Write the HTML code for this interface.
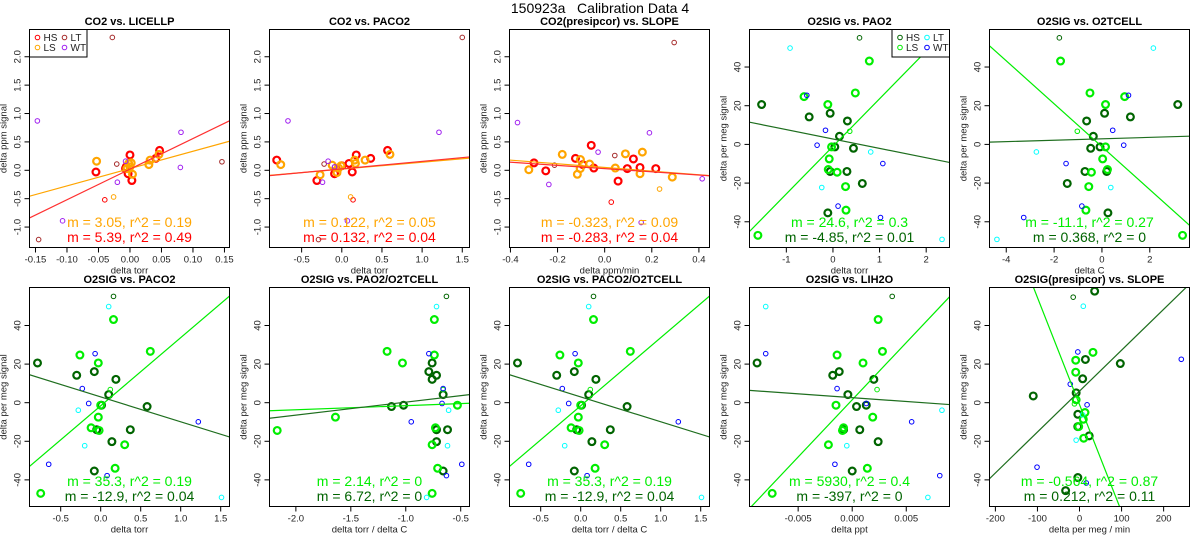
<!DOCTYPE html>
<html><head><meta charset="utf-8"><style>
html,body{margin:0;padding:0;background:#fff;width:1200px;height:550px;overflow:hidden;}
svg{display:block;font-family:"Liberation Sans",sans-serif;}
</style></head><body>
<svg id="chart" width="1200" height="550" viewBox="0 0 1200 550">
<text x="600" y="13" text-anchor="middle" font-size="14" style="white-space:pre">150923a   Calibration Data 4</text>
</svg>
<script>
// ---- data (pairs of [x, y]) ----
const p1_hs=[[-0.054,-0.03],[0.0,0.27],[-0.006,0.06],[-0.003,-0.06],[0.003,-0.18],[0.041,0.21],[0.047,0.35],[-0.007,0.03]];
const p1_ls=[[-0.053,0.16],[0.03,0.1],[0.032,0.18],[0.046,0.28],[0.004,-0.07],[-0.002,0.12],[0.002,0.13],[-0.005,0.03],[0.0,0.06]];
const p1_hso=[[-0.04,-0.52]];
const p1_lso=[[-0.026,-0.47]];
const p1_lt=[[-0.028,2.34],[-0.021,0.11],[-0.145,-1.22],[0.146,0.15]];
const p1_wt=[[-0.147,0.87],[0.081,0.67],[0.08,0.05],[-0.02,-0.21],[-0.107,-0.89],[-0.007,0.16]];

const p2_hs=[[-0.81,0.18],[-0.31,-0.18],[-0.09,-0.06],[0.0,0.08],[0.09,0.12],[0.13,-0.03],[0.18,0.27],[0.36,0.21],[0.57,0.35]];
const p2_ls=[[-0.76,0.1],[-0.27,-0.08],[-0.12,0.09],[-0.04,0.04],[-0.01,0.08],[0.16,0.18],[0.17,0.12],[0.29,0.18],[0.6,0.28],[-0.06,-0.04]];
const p2_hso=[[0.14,-0.52]];
const p2_lso=[[0.11,-0.47]];
const p2_lt=[[1.5,2.34],[-0.22,0.11],[-0.29,-1.22],[-0.09,0.06]];
const p2_wt=[[-0.67,0.87],[1.21,0.67],[-0.17,0.16],[-0.24,-0.21],[0.07,-0.89],[-0.09,0.06]];

const p3_hs=[[-0.30,0.13],[-0.25,-0.01],[-0.124,0.21],[-0.093,0.1],[-0.057,0.44],[-0.046,0.04],[0.057,-0.19],[0.096,0.03],[0.122,0.2],[0.15,0.05],[0.217,0.03]];
const p3_ls=[[-0.322,0.01],[-0.18,0.28],[-0.116,-0.07],[-0.104,0.03],[-0.103,0.19],[-0.064,0.11],[0.045,0.04],[0.088,0.29],[0.16,0.32],[0.15,-0.06],[0.287,-0.12]];
const p3_hso=[[0.028,-0.56]];
const p3_lso=[[0.233,-0.33]];
const p3_lt=[[0.295,2.25],[-0.213,0.09],[0.043,0.26]];
const p3_wt=[[-0.37,0.84],[0.19,0.66],[-0.028,0.32],[-0.237,-0.25],[0.414,-0.15],[0.155,-0.92]];

const p4_hs=[[-1.53,20.6],[-0.51,14.2],[-0.06,16.1],[0.31,12.1],[0.14,4.2],[0.04,-1.3],[0.44,-2],[-0.06,-14],[0.3,-14],[0.63,-20.2],[-0.11,-35.4]];
const p4_ls=[[-0.62,24.7],[-0.11,20.6],[0.48,26.6],[0.78,43.1],[-0.03,-1.3],[-0.08,-7.5],[-0.1,-13],[0.09,-14.4],[0.27,-21.8],[0.28,-34],[-1.61,-47]];
const p4_hso=[[0.57,55.1]];
const p4_lso=[[0.36,6.8]];
const p4_lt=[[-0.92,49.8],[-0.24,-22.3],[0.81,-3.9],[2.34,-49.1]];
const p4_wt=[[-0.56,25.4],[-0.16,7.3],[-0.34,-0.4],[1.07,-9.9],[0.11,-31.9],[1.02,-37.8]];

const p5_hs=[[3.17,20.6],[1.19,14.2],[0.11,16.1],[-0.64,12.1],[-0.36,4.2],[-0.08,-1.3],[-0.47,-2],[-0.71,-14],[0.2,-14],[-1.45,-20.2],[0.25,-35.4]];
const p5_ls=[[0.95,24.7],[0.15,20.6],[-0.5,26.6],[-1.73,43.1],[0.15,-1.3],[0.03,-7.5],[0.23,-13],[-0.44,-14.4],[-0.55,-21.8],[-0.67,-34],[3.37,-47]];
const p5_hso=[[-1.78,55.1]];
const p5_lso=[[-1.03,6.8]];
const p5_lt=[[2.15,49.8],[0.37,-22.3],[-2.74,-3.9],[-4.39,-49.1]];
const p5_wt=[[1.11,25.4],[0.45,7.3],[0.91,-0.4],[-1.5,-9.9],[-0.84,-31.9],[-3.27,-37.8]];

const p6_hs=[[-0.79,20.6],[-0.3,14.2],[-0.08,16.1],[0.19,12.1],[0.1,4.2],[0.01,-1.3],[0.58,-2],[-0.05,-14],[0.37,-14],[0.14,-20.2],[-0.08,-35.4]];
const p6_ls=[[-0.26,24.7],[-0.03,20.6],[0.62,26.6],[0.16,43.1],[0.0,-1.3],[-0.03,-7.5],[-0.12,-13],[-0.02,-14.4],[0.3,-21.8],[0.18,-34],[-0.75,-47]];
const p6_hso=[[0.16,55.1]];
const p6_lso=[[0.12,6.8]];
const p6_lt=[[0.1,49.8],[-0.2,-22.3],[-0.28,-3.9],[1.51,-49.1]];
const p6_wt=[[-0.07,25.4],[-0.23,7.3],[-0.15,-0.4],[1.22,-9.9],[-0.65,-31.9],[0.08,-37.8]];

const p7_hs=[[-0.76,20.6],[-0.72,14.2],[-0.79,16.1],[-0.76,12.1],[-0.66,4.2],[-1.02,-1.3],[-1.13,-2],[-0.72,-14],[-0.62,-14],[-0.72,-20.2],[-0.66,-35.4]];
const p7_ls=[[-0.74,24.7],[-1.03,20.6],[-1.17,26.6],[-0.74,43.1],[-0.53,-1.3],[-1.64,-7.5],[-0.73,-13],[-2.17,-14.4],[-0.76,-21.8],[-0.71,-34],[-0.76,-47]];
const p7_hso=[[-0.63,55.1]];
const p7_lso=[[-0.66,6.8]];
const p7_lt=[[-0.72,49.8],[-0.62,-22.3],[-0.61,-3.9],[-0.81,-49.1]];
const p7_wt=[[-0.79,25.4],[-0.66,7.3],[-0.67,-0.4],[-0.95,-9.9],[-0.49,-31.9],[-0.63,-37.8]];

const p9_hs=[[-0.0088,20.6],[-0.0018,14.2],[-0.0012,16.1],[0.002,12.1],[-0.0004,4.2],[0.0013,-1.3],[0.0004,-2],[0.0007,-14],[0.0024,-20.2],[0.0,-35.4],[-0.0008,-14]];
const p9_ls=[[-0.0014,24.7],[0.001,20.6],[0.0028,26.6],[0.0024,43.1],[-0.0015,-1.3],[0.0019,-7.5],[-0.0008,-13],[-0.0009,-14.4],[-0.0022,-21.8],[0.0014,-34],[-0.0074,-47]];
const p9_hso=[[0.0037,55.1]];
const p9_lso=[[0.0023,6.8]];
const p9_lt=[[-0.008,49.8],[-0.0005,-22.3],[0.0083,-3.9],[0.007,-49.1]];
const p9_wt=[[-0.008,25.4],[-0.0014,7.3],[0.0013,-0.4],[0.0055,-9.9],[-0.0016,-31.9],[0.0081,-37.8]];

const p10_hs=[[36,57.8],[14,22.4],[97,20.3],[7.5,12.4],[-110,3.5],[-8,5.1],[-4,-6],[-4,-12.4],[23,-17.2],[-4,-38.8],[-33,-45.6]];
const p10_ls=[[32,26.1],[-9,22],[-9,15.8],[-8,1.5],[13,-5.1],[9,-8.6],[-2,-12.4],[10,-18.4]];
const p10_hso=[[-15,54.7]];
const p10_lso=[[-12,-0.6]];
const p10_lt=[[9,50],[-8,-19.4],[7.5,-6.3]];
const p10_wt=[[-4,26.3],[-22,9.6],[18,-1.1],[-101,-33.4],[242,22.5],[16,-41.6]];

// fit lines: [slope, intercept]
const p1_fits=[[3.05,0.03],[5.39,0.02]];
const p2_fits=[[0.122,0.02],[0.132,0.025]];
const p3_fits=[[-0.323,0.05],[-0.283,0.03]];
const p4_fits=[[24.6,-1],[-4.85,2.8]];
const p5_fits=[[-11.1,-1.2],[0.368,2.9]];
const p6_fits=[[35.3,-1.6],[-12.9,3]];
const p7_fits=[[2.14,0.6],[6.72,7]];
const p9_fits=[[5930,1.5],[-397,2.6]];
const p10_fits=[[-0.555,-1],[0.212,6]];

// tick labels
const co2_yticks=["-1.0","-0.5","0.0","0.5","1.0","1.5","2.0"];
const o2_yticks=["-40","-20","0","20","40"];
const p1_xticks=["-0.15","-0.10","-0.05","0.00","0.05","0.10","0.15"];
const p2_xticks=["-0.5","0.0","0.5","1.0","1.5"];
const p3_xticks=["-0.4","-0.2","0.0","0.2","0.4"];
const p4_xticks=["-1","0","1","2"];
const p5_xticks=["-4","-2","0","2"];
const p7_xticks=["-2.0","-1.5","-1.0","-0.5"];
const p9_xticks=["-0.005","0.000","0.005"];
const p10_xticks=["-200","-100","0","100","200"];

const NS="http://www.w3.org/2000/svg";
const svg=document.getElementById('chart');
function mk(tag,attrs,parent){const e=document.createElementNS(NS,tag);for(const k in attrs)e.setAttribute(k,attrs[k]);(parent||svg).appendChild(e);return e;}

const CO2={hs:'#FF0000',ls:'#FFA500',lt:'#A52A2A',wt:'#A020F0',l1:'#FFA500',l2:'#FF3030'};
const O2={hs:'#006400',ls:'#00EE00',lt:'#00FFFF',wt:'#0000FF',l1:'#00EE00',l2:'#1E6E1E'};

const panels=[
 {t:'CO2 vs. LICELLP',xl:'delta torr',yl:'delta ppm signal',xr:[-0.1595,0.158],yr:[-1.36,2.48],xt:p1_xticks,yt:co2_yticks,s:[p1_hs,p1_ls,p1_hso,p1_lso,p1_lt,p1_wt],f:p1_fits,c:CO2,leg:'left',txt:['m = 3.05, r^2 = 0.19','m = 5.39, r^2 = 0.49']},
 {t:'CO2 vs. PACO2',xl:'delta torr',yl:'delta ppm signal',xr:[-0.9,1.59],yr:[-1.36,2.48],xt:p2_xticks,yt:co2_yticks,s:[p2_hs,p2_ls,p2_hso,p2_lso,p2_lt,p2_wt],f:p2_fits,c:CO2,txt:['m = 0.122, r^2 = 0.05','m = 0.132, r^2 = 0.04']},
 {t:'CO2(presipcor) vs. SLOPE',xl:'delta ppm/min',yl:'delta ppm signal',xr:[-0.404,0.445],yr:[-1.36,2.48],xt:p3_xticks,yt:co2_yticks,s:[p3_hs,p3_ls,p3_hso,p3_lso,p3_lt,p3_wt],f:p3_fits,c:CO2,txt:['m = -0.323, r^2 = 0.09','m = -0.283, r^2 = 0.04']},
 {t:'O2SIG vs. PAO2',xl:'delta torr',yl:'delta per meg signal',xr:[-1.79,2.5],yr:[-53.3,59.4],xt:p4_xticks,yt:o2_yticks,s:[p4_hs,p4_ls,p4_hso,p4_lso,p4_lt,p4_wt],f:p4_fits,c:O2,leg:'right',txt:['m = 24.6, r^2 = 0.3','m = -4.85, r^2 = 0.01']},
 {t:'O2SIG vs. O2TCELL',xl:'delta C',yl:'delta per meg signal',xr:[-4.7,3.66],yr:[-53.3,59.4],xt:p5_xticks,yt:o2_yticks,s:[p5_hs,p5_ls,p5_hso,p5_lso,p5_lt,p5_wt],f:p5_fits,c:O2,txt:['m = -11.1, r^2 = 0.27','m = 0.368, r^2 = 0']},
 {t:'O2SIG vs. PACO2',xl:'delta torr',yl:'delta per meg signal',xr:[-0.89,1.61],yr:[-53.8,59.7],xt:p2_xticks,yt:o2_yticks,s:[p6_hs,p6_ls,p6_hso,p6_lso,p6_lt,p6_wt],f:p6_fits,c:O2,txt:['m = 35.3, r^2 = 0.19','m = -12.9, r^2 = 0.04']},
 {t:'O2SIG vs. PAO2/O2TCELL',xl:'delta torr / delta C',yl:'delta per meg signal',xr:[-2.24,-0.42],yr:[-53.8,59.7],xt:p7_xticks,yt:o2_yticks,s:[p7_hs,p7_ls,p7_hso,p7_lso,p7_lt,p7_wt],f:p7_fits,c:O2,txt:['m = 2.14, r^2 = 0','m = 6.72, r^2 = 0']},
 {t:'O2SIG vs. PACO2/O2TCELL',xl:'delta torr / delta C',yl:'delta per meg signal',xr:[-0.89,1.61],yr:[-53.8,59.7],xt:p2_xticks,yt:o2_yticks,s:[p6_hs,p6_ls,p6_hso,p6_lso,p6_lt,p6_wt],f:p6_fits,c:O2,txt:['m = 35.3, r^2 = 0.19','m = -12.9, r^2 = 0.04']},
 {t:'O2SIG vs. LIH2O',xl:'delta ppt',yl:'delta per meg signal',xr:[-0.0095,0.009],yr:[-53.8,59.7],xt:p9_xticks,yt:o2_yticks,s:[p9_hs,p9_ls,p9_hso,p9_lso,p9_lt,p9_wt],f:p9_fits,c:O2,txt:['m = 5930, r^2 = 0.4','m = -397, r^2 = 0']},
 {t:'O2SIG(presipcor) vs. SLOPE',xl:'delta per meg / min',yl:'delta per meg signal',xr:[-214,261.5],yr:[-53.8,59.7],xt:p10_xticks,yt:o2_yticks,s:[p10_hs,p10_ls,p10_hso,p10_lso,p10_lt,p10_wt],f:p10_fits,c:O2,txt:['m = -0.564, r^2 = 0.87','m = 0.212, r^2 = 0.11']}
];
const sNames=['hs','ls','hs','ls','lt','wt'];
const sNamesFull=['hs-points','ls-points','hs-excluded-points','ls-excluded-points','lt-points','wt-points'];

panels.forEach((p,i)=>{
  const col=i%5,row=Math.floor(i/5);
  const x0=29.5+240*col,w=200;
  const y0=row?287.5:29.5,y1=row?506.5:247.5,h=y1-y0;
  const g=mk('g',{});
  
  
  const sx=v=>x0+(v-p.xr[0])/(p.xr[1]-p.xr[0])*w;
  const sy=v=>y1-(v-p.yr[0])/(p.yr[1]-p.yr[0])*h;
  const cp=mk('clipPath',{id:'cp'+i},g);mk('rect',{x:x0,y:y0,width:w,height:h},cp);
  const tt=mk('text',{x:x0+w/2,y:row?283:25,'text-anchor':'middle','font-size':11,'font-weight':'bold'},g);tt.textContent=p.t;
  
  
  p.xt.forEach(l=>{const v=parseFloat(l),X=sx(v);
    mk('line',{x1:X,x2:X,y1:y1,y2:y1+5,stroke:'#000','stroke-width':1},g);
    const t=mk('text',{x:X,y:y1+15,'text-anchor':'middle','font-size':9.5,fill:'#222'},g);t.textContent=l;
    
    
  });
  p.yt.forEach(l=>{const v=parseFloat(l),Y=sy(v);
    mk('line',{x1:x0-5,x2:x0,y1:Y,y2:Y,stroke:'#000','stroke-width':1},g);
    const t=mk('text',{x:x0-9,y:Y,'text-anchor':'middle','font-size':9.5,fill:'#222',transform:`rotate(-90 ${x0-9} ${Y})`},g);t.textContent=l;
    
    
  });
  const xl=mk('text',{x:x0+w/2,y:y1+26,'text-anchor':'middle','font-size':9.5,fill:'#222'},g);xl.textContent=p.xl;
  
  
  const yc=(y0+y1)/2;
  const yl=mk('text',{x:x0-23,y:yc,'text-anchor':'middle','font-size':9.5,fill:'#222',transform:`rotate(-90 ${x0-23} ${yc})`},g);yl.textContent=p.yl;
  
  
  const pg=mk('g',{'clip-path':`url(#cp${i})`},g);
  p.s.forEach((arr,k)=>{
    const big=k<2;
    arr.forEach(pt=>{
      const c=mk('circle',{cx:sx(pt[0]),cy:sy(pt[1]),r:big?3.4:2.3,fill:'none',stroke:p.c[sNames[k]],'stroke-width':big?2.2:1},pg);
      
      
    });
  });
  p.f.forEach((f,k)=>{
    const a=p.xr[0],b=p.xr[1];
    const ln=mk('line',{x1:sx(a),y1:sy(f[0]*a+f[1]),x2:sx(b),y2:sy(f[0]*b+f[1]),stroke:k?p.c.l2:p.c.l1,'stroke-width':1.2},pg);
    
    
  });
  p.txt.forEach((s,k)=>{
    const t=mk('text',{x:x0+w/2,y:(row?486:227)+k*15,'text-anchor':'middle','font-size':14,fill:k?(p.c===CO2?'#FF0000':'#006400'):(p.c===CO2?'#FFA500':'#00EE00')},g);
    t.textContent=s;
    
    
  });
  if(p.leg){
    const lx=p.leg==='left'?x0:x0+w-57.5,ly=y0;
    const lg=mk('g',{},g);
    
    
    mk('rect',{x:lx,y:ly,width:57.5,height:27.5,fill:'#fff',stroke:'#000','stroke-width':1},lg);
    [['HS','hs',0,0],['LS','ls',0,1],['LT','lt',1,0],['WT','wt',1,1]].forEach(e=>{
      const ex=lx+8+e[2]*27,ey=ly+8+e[3]*10;
      const c=mk('circle',{cx:ex,cy:ey,r:2.3,fill:'none',stroke:p.c[e[1]],'stroke-width':1},lg);
      
      
      const t=mk('text',{x:ex+6,y:ey+3.5,'font-size':10,fill:'#222'},lg);t.textContent=e[0];
      
      
    });
  }
  mk('rect',{x:x0,y:y0,width:w,height:h,fill:'none',stroke:'#000','stroke-width':1},g);
});
</script>
</body></html>
